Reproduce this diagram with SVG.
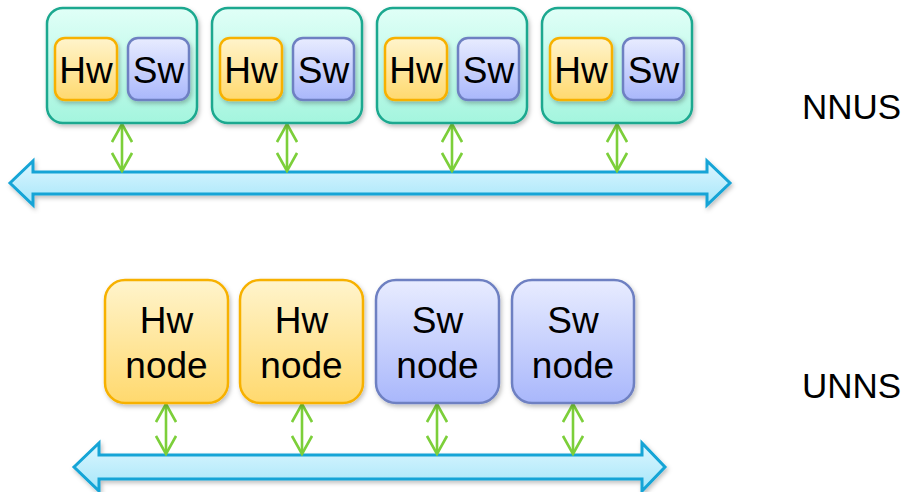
<svg xmlns="http://www.w3.org/2000/svg" width="909" height="492" viewBox="0 0 909 492">
<defs>
<linearGradient id="gOuter" x1="0" y1="0" x2="0" y2="1"><stop offset="0" stop-color="#e0fff7"/><stop offset="1" stop-color="#a4f5de"/></linearGradient>
<linearGradient id="gHw" x1="0" y1="0" x2="0" y2="1"><stop offset="0" stop-color="#fff4cc"/><stop offset="1" stop-color="#ffd96e"/></linearGradient>
<linearGradient id="gSw" x1="0" y1="0" x2="0" y2="1"><stop offset="0" stop-color="#e8ecff"/><stop offset="1" stop-color="#a9b7fb"/></linearGradient>
<linearGradient id="gBus" x1="0" y1="0" x2="0" y2="1"><stop offset="0" stop-color="#dcf6ff"/><stop offset="1" stop-color="#a6e6f9"/></linearGradient>
<filter id="sh" x="-10%" y="-10%" width="125%" height="130%"><feDropShadow dx="1.5" dy="2.5" stdDeviation="2" flood-color="#000" flood-opacity="0.25"/></filter>
<marker id="chev" viewBox="0 0 22 22" refX="20" refY="11" markerWidth="22" markerHeight="22" markerUnits="userSpaceOnUse" orient="auto-start-reverse"><path d="M2,1 L20,11 L2,21" fill="none" stroke="#7ccf3a" stroke-width="2.6"/></marker>
</defs>
<style>
.outer{fill:url(#gOuter);stroke:#1aa88f;stroke-width:2.5;filter:url(#sh)}
.hw{fill:url(#gHw);stroke:#f7b100;stroke-width:2.5;filter:url(#sh)}
.sw{fill:url(#gSw);stroke:#6e80c2;stroke-width:2.5;filter:url(#sh)}
.bus{fill:url(#gBus);stroke:#12a4d6;stroke-width:3;filter:url(#sh)}
.link{stroke:#7ccf3a;stroke-width:2.6;fill:none;marker-start:url(#chev);marker-end:url(#chev)}
text{font-family:"Liberation Sans",Arial,sans-serif;fill:#000;text-anchor:middle}
.t{font-size:37px}
.lbl{font-size:35px;text-anchor:start}
</style>

<g id="connectors">
<path class="bus" d="M10,183 L33,161 L33,172 L707,172 L707,161 L730,183 L707,205 L707,194 L33,194 L33,205 Z"/>
<path class="bus" d="M74,467 L99,443 L99,455 L642,455 L642,443 L665,467 L642,491 L642,479 L99,479 L99,491 Z"/>
<line class="link" x1="122" y1="124" x2="122" y2="171"/>
<line class="link" x1="287" y1="124" x2="287" y2="171"/>
<line class="link" x1="452" y1="124" x2="452" y2="171"/>
<line class="link" x1="617" y1="124" x2="617" y2="171"/>
<line class="link" x1="166" y1="404" x2="166" y2="454"/>
<line class="link" x1="302" y1="404" x2="302" y2="454"/>
<line class="link" x1="437" y1="404" x2="437" y2="454"/>
<line class="link" x1="573" y1="404" x2="573" y2="454"/>
</g>

<g id="nnus1">
<rect class="outer" x="47" y="8" width="150" height="115" rx="16"/>
<rect class="hw" x="55" y="38" width="62" height="62" rx="10"/>
<text class="t" x="86" y="83">Hw</text>
<rect class="sw" x="128" y="38" width="61" height="62" rx="10"/>
<text class="t" x="158.5" y="83">Sw</text>
</g>
<g id="nnus2">
<rect class="outer" x="212" y="8" width="150" height="115" rx="16"/>
<rect class="hw" x="220" y="38" width="62" height="62" rx="10"/>
<text class="t" x="251" y="83">Hw</text>
<rect class="sw" x="293" y="38" width="61" height="62" rx="10"/>
<text class="t" x="323.5" y="83">Sw</text>
</g>
<g id="nnus3">
<rect class="outer" x="377" y="8" width="150" height="115" rx="16"/>
<rect class="hw" x="385" y="38" width="62" height="62" rx="10"/>
<text class="t" x="416" y="83">Hw</text>
<rect class="sw" x="458" y="38" width="61" height="62" rx="10"/>
<text class="t" x="488.5" y="83">Sw</text>
</g>
<g id="nnus4">
<rect class="outer" x="542" y="8" width="150" height="115" rx="16"/>
<rect class="hw" x="550" y="38" width="62" height="62" rx="10"/>
<text class="t" x="581" y="83">Hw</text>
<rect class="sw" x="623" y="38" width="61" height="62" rx="10"/>
<text class="t" x="653.5" y="83">Sw</text>
</g>

<g id="hwnode1">
<rect class="hw" x="105" y="280" width="123" height="123" rx="20"/>
<text class="t" x="166.5" y="333">Hw</text>
<text class="t" x="166.5" y="378">node</text>
</g>
<g id="hwnode2">
<rect class="hw" x="240" y="280" width="123" height="123" rx="20"/>
<text class="t" x="301.5" y="333">Hw</text>
<text class="t" x="301.5" y="378">node</text>
</g>
<g id="swnode1">
<rect class="sw" x="376" y="280" width="123" height="123" rx="20"/>
<text class="t" x="437.5" y="333">Sw</text>
<text class="t" x="437.5" y="378">node</text>
</g>
<g id="swnode2">
<rect class="sw" x="512" y="280" width="122" height="123" rx="20"/>
<text class="t" x="573" y="333">Sw</text>
<text class="t" x="573" y="378">node</text>
</g>

<g id="labels">
<text class="lbl" x="802" y="119">NNUS</text>
<text class="lbl" x="802" y="398">UNNS</text>
</g>
</svg>
